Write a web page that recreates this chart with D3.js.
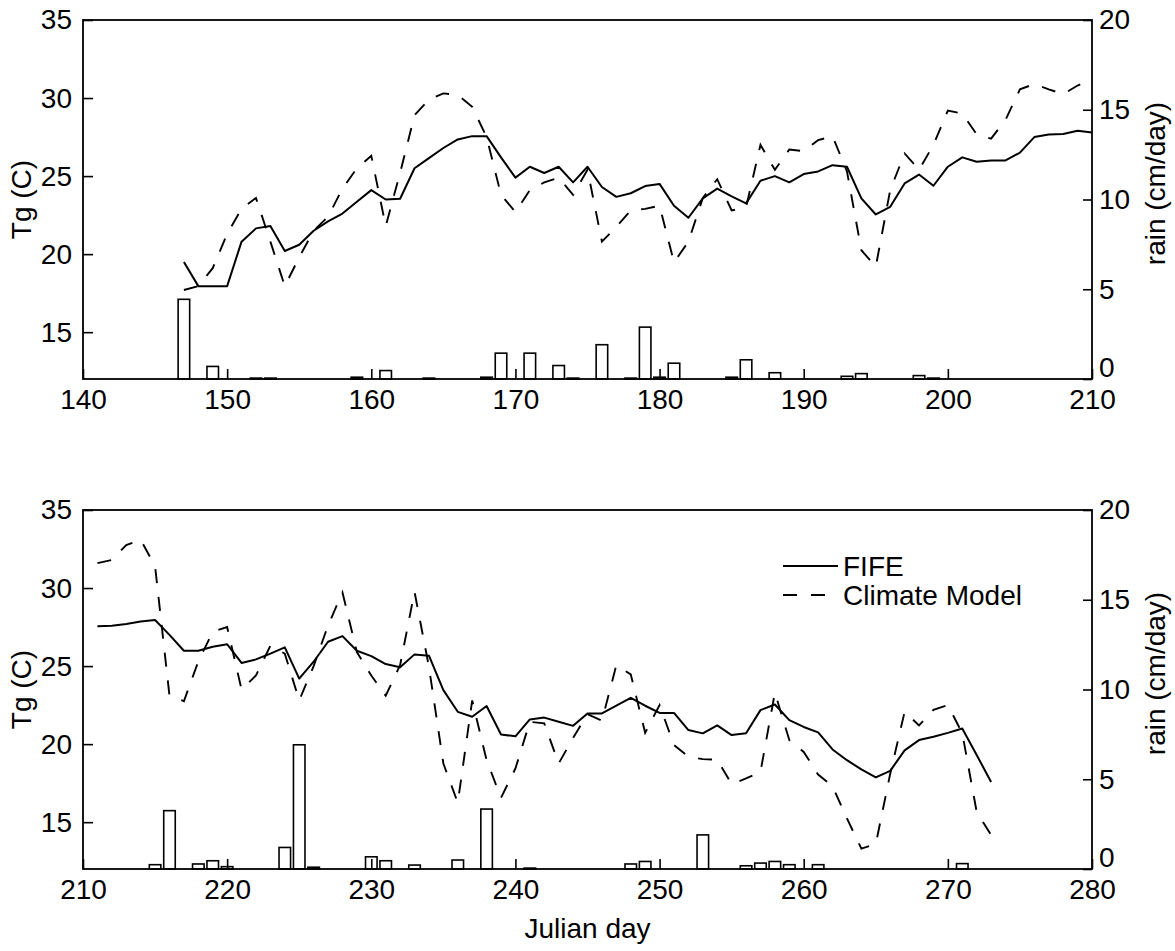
<!DOCTYPE html>
<html>
<head>
<meta charset="utf-8">
<script src="https://cdn.jsdelivr.net/npm/d3@7"></script>
<style>
  body { margin: 0; background: #fff; }
  svg text { font-family: 'Liberation Sans', Arial, Helvetica, sans-serif; fill: #000; }
</style>
</head>
<body>
<div id="chart"></div>
<script>
const SIZE = { width: 1175, height: 951 }
const PLOT = { left: 83, right: 1092, height: 359 }

// top panel, days 147..210
const topFirstDay = 147
const topFife = [19.5, 17.95, 17.95, 17.95, 20.8, 21.65, 21.8, 20.2, 20.6, 21.5,
  22.1, 22.6, 23.35, 24.1, 23.5, 23.55, 25.5, 26.15, 26.8, 27.35,
  27.56, 27.56, 26.2, 24.9, 25.6, 25.2, 25.6, 24.6, 25.6, 24.3,
  23.67, 23.9, 24.36, 24.5, 23.1, 22.33, 23.57, 24.2, 23.7, 23.25,
  24.7, 25.0, 24.6, 25.13, 25.3, 25.7, 25.6, 23.57, 22.54, 23.03,
  24.53, 25.1, 24.38, 25.6, 26.2, 25.92, 26.0, 26.0, 26.5, 27.5,
  27.66, 27.7, 27.9, 27.8]
const topModel = [17.7, 17.95, 19.1, 21.3, 22.9, 23.6, 20.8, 17.95, 19.8, 21.5,
  22.4, 24.2, 25.5, 26.3, 21.8, 25.2, 28.9, 29.9, 30.3, 30.2,
  29.44, 27.5, 23.8, 22.7, 24.1, 24.6, 24.9, 23.8, 25.4, 20.8,
  21.75, 22.8, 22.9, 23.1, 19.47, 20.8, 23.6, 24.8, 22.8, 23.0,
  27.0, 25.4, 26.7, 26.6, 27.3, 27.56, 25.3, 20.25, 19.2, 24.1,
  26.45, 25.4, 27.0, 29.2, 29.0, 27.67, 27.4, 28.6, 30.56, 30.9,
  30.56, 30.25, 30.8, 31.2]
const topRainDays = [147, 149, 152, 153, 159, 161, 164, 168, 169, 171, 173, 174,
  176, 178, 179, 180, 181, 185, 186, 188, 193, 194, 198, 199]
const topRain = [4.44, 0.7, 0.05, 0.05, 0.1, 0.47, 0.05, 0.1, 1.44, 1.44, 0.75, 0.05,
  1.91, 0.05, 2.89, 0.1, 0.88, 0.1, 1.07, 0.35, 0.15, 0.3, 0.19, 0.05]

// bottom panel, days 211..273
const bottomFirstDay = 211
const bottomFife = [27.56, 27.58, 27.7, 27.85, 27.95, 27.0, 25.98, 25.98, 26.24, 26.4,
  25.2, 25.43, 25.8, 26.2, 24.2, 25.28, 26.56, 26.92, 25.98, 25.64,
  25.13, 24.92, 25.75, 25.67, 23.46, 22.07, 21.75, 22.44, 20.62, 20.5,
  21.58, 21.7, 21.43, 21.17, 21.97, 21.97, 22.46, 22.97, 22.46, 22.0,
  22.0, 20.9, 20.69, 21.2, 20.58, 20.7, 22.18, 22.54, 21.54, 21.1,
  20.75, 19.66, 18.97, 18.38, 17.87, 18.29, 19.6, 20.26, 20.47, 20.72,
  21.0, 19.3, 17.58]
const bottomModel = [31.6, 31.8, 32.75, 33.1, 31.4, 23.1, 22.75, 25.3, 27.2, 27.5,
  23.5, 24.4, 26.3, 25.8, 22.8, 25.0, 27.6, 29.72, 25.9, 24.4,
  23.1, 25.06, 29.76, 24.95, 18.76, 16.24, 22.8, 18.97, 16.56, 18.44,
  21.43, 21.33, 18.76, 20.4, 21.92, 21.5, 25.06, 24.47, 20.73, 22.5,
  19.94, 19.19, 19.04, 19.0, 17.44, 17.8, 18.22, 23.3, 20.26, 19.5,
  18.05, 17.3, 15.24, 13.3, 13.6, 18.1, 22.07, 21.2, 22.2, 22.5,
  20.7, 15.66, 14.17]
const bottomRainDays = [215, 216, 218, 219, 220, 224, 225, 226, 230, 231, 233, 236,
  238, 241, 248, 249, 253, 256, 257, 258, 259, 261, 271]
const bottomRain = [0.24, 3.25, 0.28, 0.46, 0.13, 1.2, 6.92, 0.1, 0.68, 0.46, 0.22, 0.5,
  3.34, 0.05, 0.28, 0.42, 1.9, 0.18, 0.33, 0.42, 0.24, 0.24, 0.3]

const tempTicks = [15, 20, 25, 30, 35]
const rainTicks = [0, 5, 10, 15, 20]
const topDayTicks = [140, 150, 160, 170, 180, 190, 200, 210]
const bottomDayTicks = [210, 220, 230, 240, 250, 260, 270, 280]
const seriesNames = ['FIFE', 'Climate Model']

const DASH = '14,14'
const FONT = 28

function series (firstDay, values) {
  return values.map((v, i) => ({ day: firstDay + i, value: v }))
}

function defineSVG (selector, size) {
  return d3.select(selector)
    .append('svg')
    .attr('width', size.width)
    .attr('height', size.height)
    .style('background', '#fff')
}

function drawPanel (params) {
  const {
    svg,
    top,
    dayTicks,
    fife,
    model,
    rainDays,
    rain,
    legend,
  } = params

  const bottom = top + PLOT.height
  const x = d3.scaleLinear().domain(d3.extent(dayTicks)).range([PLOT.left, PLOT.right])
  const yT = d3.scaleLinear().domain([12, 35]).range([bottom, top])
  const yR = d3.scaleLinear().domain([0, 20]).range([bottom, top])
  const barW = (x(1) - x(0)) * 0.8

  const g = svg.append('g').attr('class', 'panel')

  // rain bars
  g.append('g')
    .selectAll('rect')
    .data(rainDays.map((d, i) => ({ day: d, value: rain[i] })))
    .enter()
    .append('rect')
    .attr('x', d => x(d.day) - barW / 2)
    .attr('y', d => yR(d.value))
    .attr('width', barW)
    .attr('height', d => yR(0) - yR(d.value))
    .attr('fill', '#fff')
    .attr('stroke', '#000')
    .attr('stroke-width', 1.6)

  const line = d3.line()
    .x(d => x(d.day))
    .y(d => yT(d.value))

  g.append('path')
    .datum(model)
    .attr('d', line)
    .attr('fill', 'none')
    .attr('stroke', '#000')
    .attr('stroke-width', 1.9)
    .attr('stroke-dasharray', DASH)

  g.append('path')
    .datum(fife)
    .attr('d', line)
    .attr('fill', 'none')
    .attr('stroke', '#000')
    .attr('stroke-width', 2)
    .attr('stroke-linejoin', 'round')

  // frame
  g.append('rect')
    .attr('x', PLOT.left)
    .attr('y', top)
    .attr('width', PLOT.right - PLOT.left)
    .attr('height', PLOT.height)
    .attr('fill', 'none')
    .attr('stroke', '#000')
    .attr('stroke-width', 1.8)

  const styleAxis = a => {
    a.select('.domain').remove()
    a.selectAll('line').attr('stroke', '#000').attr('stroke-width', 1.6)
    a.selectAll('text').attr('font-size', FONT).attr('fill', '#000')
  }

  g.append('g')
    .attr('transform', `translate(${PLOT.left},0)`)
    .call(d3.axisLeft(yT).tickValues(tempTicks).tickSize(-10).tickPadding(11))
    .call(styleAxis)

  // the 0 label sits just above the day label, as in the original
  g.append('g')
    .attr('transform', `translate(${PLOT.right},0)`)
    .call(d3.axisRight(yR).tickValues(rainTicks).tickSize(-9).tickPadding(7))
    .call(styleAxis)
    .call(a => a.selectAll('.tick')
      .filter(d => d === 0)
      .select('text')
      .attr('dy', '-0.08em'))

  g.append('g')
    .attr('transform', `translate(0,${bottom})`)
    .call(d3.axisBottom(x).tickValues(dayTicks).tickSize(-10).tickPadding(10))
    .call(styleAxis)

  g.append('text')
    .attr('transform', `translate(21,${top + PLOT.height / 2}) rotate(-90)`)
    .attr('text-anchor', 'middle')
    .attr('dominant-baseline', 'central')
    .attr('font-size', FONT)
    .text('Tg (C)')

  g.append('text')
    .attr('transform', `translate(1155,${top + PLOT.height / 2 - 16}) rotate(-90)`)
    .attr('text-anchor', 'middle')
    .attr('dominant-baseline', 'central')
    .attr('font-size', FONT)
    .text('rain (cm/day)')

  if (legend) {
    const items = g.append('g').attr('class', 'legend')
      .selectAll('g')
      .data(seriesNames)
      .enter()
      .append('g')
      .attr('transform', (d, i) => `translate(783,${top + 56 + i * 29})`)
    items.append('line')
      .attr('x1', 0)
      .attr('x2', (d, i) => i ? 42 : 55)
      .attr('stroke', '#000')
      .attr('stroke-width', 1.9)
      .attr('stroke-dasharray', (d, i) => i ? DASH : null)
    items.append('text')
      .attr('x', 60)
      .attr('dominant-baseline', 'central')
      .attr('font-size', FONT)
      .text(d => d)
  }
  return g
}

const svg = defineSVG('#chart', SIZE)

drawPanel({
  svg,
  top: 20,
  dayTicks: topDayTicks,
  fife: series(topFirstDay, topFife),
  model: series(topFirstDay, topModel),
  rainDays: topRainDays,
  rain: topRain,
  legend: false,
})

drawPanel({
  svg,
  top: 510,
  dayTicks: bottomDayTicks,
  fife: series(bottomFirstDay, bottomFife),
  model: series(bottomFirstDay, bottomModel),
  rainDays: bottomRainDays,
  rain: bottomRain,
  legend: true,
})

svg.append('text')
  .attr('x', (PLOT.left + PLOT.right) / 2)
  .attr('y', 928)
  .attr('text-anchor', 'middle')
  .attr('dominant-baseline', 'central')
  .attr('font-size', FONT)
  .text('Julian day')
</script>
</body>
</html>
